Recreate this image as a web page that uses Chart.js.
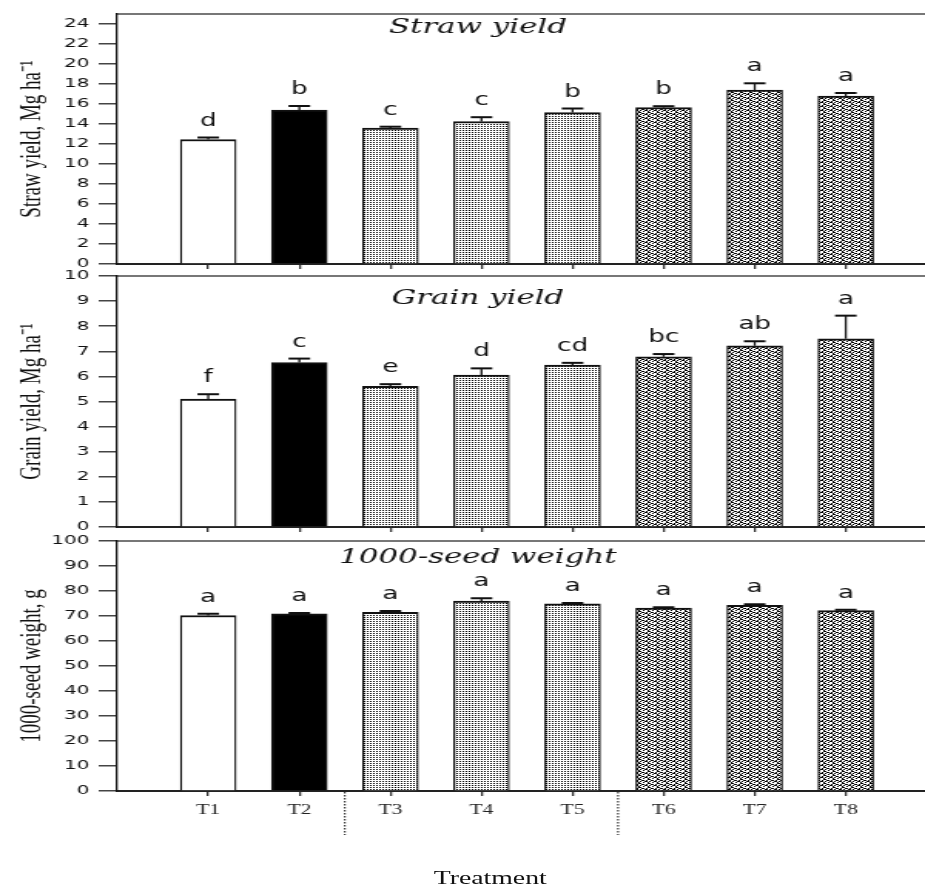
<!DOCTYPE html>
<html lang="en">
<head>
<meta charset="UTF-8" />
<title>Straw yield, grain yield and 1000-seed weight</title>
<style>
  html, body {
    margin: 0;
    padding: 0;
    background: #fff;
    overflow: hidden;
  }
  /* the original figure is stretched sideways, so the whole drawing is too */
  #figure {
    position: absolute;
    left: 0;
    top: 0;
    width: 600px;
    height: 886px;
    transform: scaleX(1.5417);
    transform-origin: 0 0;
  }
  .panel {
    position: absolute;
    left: 0;
    width: 600px;
  }
  #xTitle {
    position: absolute;
    left: 238px;
    width: 160px;
    top: 869px;
    text-align: center;
    font: 18px/18px 'Liberation Serif', 'Times New Roman', serif;
    color: #111;
  }
</style>
<script src="https://cdn.jsdelivr.net/npm/chart.js"></script>
</head>
<body>

<div id="figure">
  <div class="panel" style="top:0;height:278px"><canvas id="strawChart"></canvas></div>
  <div class="panel" style="top:262px;height:279px"><canvas id="grainChart"></canvas></div>
  <div class="panel" style="top:527px;height:359px"><canvas id="seedChart"></canvas></div>
  <div id="xTitle">Treatment</div>
</div>

<script>
  const treatments = ['T1', 'T2', 'T3', 'T4', 'T5', 'T6', 'T7', 'T8'];

  const strawYield   = [12.45, 15.4, 13.6, 14.25, 15.15, 15.65, 17.4, 16.8];
  const strawErr     = [0.2, 0.4, 0.13, 0.43, 0.4, 0.13, 0.67, 0.3];
  const strawLetters = ['d', 'b', 'c', 'c', 'b', 'b', 'a', 'a'];
  const strawTicks   = [0, 2, 4, 6, 8, 10, 12, 14, 16, 18, 20, 22, 24];

  const grainYield   = [5.1, 6.55, 5.6, 6.05, 6.45, 6.78, 7.22, 7.5];
  const grainErr     = [0.19, 0.16, 0.09, 0.27, 0.09, 0.11, 0.18, 0.92];
  const grainLetters = ['f', 'c', 'e', 'd', 'cd', 'bc', 'ab', 'a'];
  const grainTicks   = [0, 1, 2, 3, 4, 5, 6, 7, 8, 9, 10];

  const seedWeight   = [70.2, 70.9, 71.5, 76.0, 74.9, 73.2, 74.3, 72.2];
  const seedErr      = [0.7, 0.3, 0.5, 1.1, 0.3, 0.3, 0.4, 0.3];
  const seedLetters  = ['a', 'a', 'a', 'a', 'a', 'a', 'a', 'a'];
  const seedTicks    = [0, 10, 20, 30, 40, 50, 60, 70, 80, 90, 100];

  // dotted separators between treatment groups (in category units)
  const groupBreaks = [1.5, 4.5];

  function makePattern(rows) {
    const c = document.createElement('canvas');
    c.width = rows[0].length;
    c.height = rows.length;
    const g = c.getContext('2d');
    g.fillStyle = '#fff';
    g.fillRect(0, 0, c.width, c.height);
    g.fillStyle = '#000';
    rows.forEach((r, y) => {
      [...r].forEach((ch, x) => { if (ch === 'X') g.fillRect(x, y, 1, 1); });
    });
    return g.createPattern(c, 'repeat');
  }

  const fineDots = makePattern(['X.', '..']);
  const coarseDots = makePattern([
    'XX....',
    '..XX.X',
    '.X..XX',
    'X..X..'
  ]);
  const barFills = ['#fff', '#000', fineDots, fineDots, fineDots, coarseDots, coarseDots, coarseDots];

  // error bars (upper half), letters, panel title and group separators
  function marksPlugin(p) {
    return {
      id: 'marks',
      afterDatasetsDraw(chart) {
        const { ctx, chartArea, scales: { x, y } } = chart;
        const bars = chart.getDatasetMeta(0).data;
        ctx.save();
        ctx.strokeStyle = '#111';
        ctx.fillStyle = '#111';
        p.values.forEach((v, i) => {
          const cx = bars[i].x;
          const hi = y.getPixelForValue(v + p.errors[i]);
          const top = y.getPixelForValue(v);
          ctx.lineWidth = 1.3;
          ctx.beginPath();
          ctx.moveTo(cx, top);
          ctx.lineTo(cx, hi);
          ctx.stroke();
          ctx.lineWidth = 2;
          ctx.beginPath();
          ctx.moveTo(cx - 7, hi);
          ctx.lineTo(cx + 7, hi);
          ctx.stroke();
          ctx.font = '17px "DejaVu Sans", Arial, sans-serif';
          ctx.textAlign = 'center';
          ctx.textBaseline = 'alphabetic';
          ctx.fillText(p.letters[i], cx, hi - 12);
        });

        ctx.font = 'italic 20px "DejaVu Serif", serif';
        ctx.textAlign = 'center';
        ctx.fillText(p.title, 310, chartArea.top + p.titleDy);

        if (p.breaks) {
          ctx.lineWidth = 1;
          ctx.setLineDash([1.5, 1.5]);
          p.breaks.forEach(b => {
            const bx = x.getPixelForValue(b);
            ctx.beginPath();
            ctx.moveTo(bx, chartArea.bottom + 1);
            ctx.lineTo(bx, chartArea.bottom + 44);
            ctx.stroke();
          });
        }
        ctx.restore();
      }
    };
  }

  function makePanel(id, p) {
    const ctx = document.getElementById(id).getContext('2d');
    return new Chart(ctx, {
      type: 'bar',
      data: {
        datasets: [{
          data: p.values.map((v, i) => ({ x: i, y: v })),
          backgroundColor: barFills,
          borderColor: '#111',
          borderWidth: { top: 2, left: 1.3, right: 1.3, bottom: 0 },
          borderSkipped: 'bottom',
          barThickness: 36
        }]
      },
      options: {
        responsive: true,
        maintainAspectRatio: false,
        animation: false,
        layout: { padding: { top: 14, left: 0, right: 0, bottom: 0 } },
        plugins: {
          legend: { display: false },
          tooltip: { enabled: false }
        },
        scales: {
          x: {
            type: 'linear',
            min: -1,
            max: 7.87,
            bounds: 'data',
            offset: false,
            afterBuildTicks: s => { s.ticks = treatments.map((t, i) => ({ value: i })); },
            afterFit: s => { s.height = p.axisHeight; },
            grid: { offset: false, drawOnChartArea: false, tickLength: 5, lineWidth: 1.3, color: '#333' },
            border: { color: '#222', width: 2 },
            ticks: {
              display: p.showLabels,
              autoSkip: false,
              maxRotation: 0,
              padding: 6,
              color: '#222',
              font: { family: "'Liberation Serif', 'Times New Roman', serif", size: 14 },
              callback: v => treatments[v] ?? ''
            }
          },
          frame: {
            type: 'linear',
            position: 'top',
            grid: { display: false, drawTicks: false },
            ticks: { display: false },
            border: { color: '#777', width: 2 }
          },
          y: {
            min: 0,
            max: p.max,
            bounds: 'data',
            afterBuildTicks: s => { s.ticks = p.ticks.map(v => ({ value: v })); },
            afterFit: s => { s.width = 76; },
            grid: { drawOnChartArea: false, tickLength: 12, lineWidth: 1.5, color: '#444' },
            border: { color: '#111', width: 1.3 },
            ticks: {
              padding: 6,
              color: '#111',
              font: { family: "'DejaVu Sans', Arial, sans-serif", size: 13 }
            },
            title: {
              display: true,
              text: p.yTitle,
              color: '#111',
              padding: { top: 10, bottom: 0 },
              font: { family: "'Liberation Serif', 'Times New Roman', serif", size: 19 }
            }
          }
        }
      },
      plugins: [marksPlugin(p)]
    });
  }

  makePanel('strawChart', {
    values: strawYield, errors: strawErr, letters: strawLetters, ticks: strawTicks,
    max: 25, yTitle: 'Straw yield, Mg ha⁻¹', title: 'Straw yield', titleDy: 19,
    axisHeight: 14, showLabels: false
  });

  makePanel('grainChart', {
    values: grainYield, errors: grainErr, letters: grainLetters, ticks: grainTicks,
    max: 10, yTitle: 'Grain yield, Mg ha⁻¹', title: 'Grain yield', titleDy: 28,
    axisHeight: 14, showLabels: false
  });

  makePanel('seedChart', {
    values: seedWeight, errors: seedErr, letters: seedLetters, ticks: seedTicks,
    max: 100, yTitle: '1000-seed weight, g', title: '1000-seed weight', titleDy: 22,
    axisHeight: 95, showLabels: true, breaks: groupBreaks
  });
</script>

</body>
</html>
